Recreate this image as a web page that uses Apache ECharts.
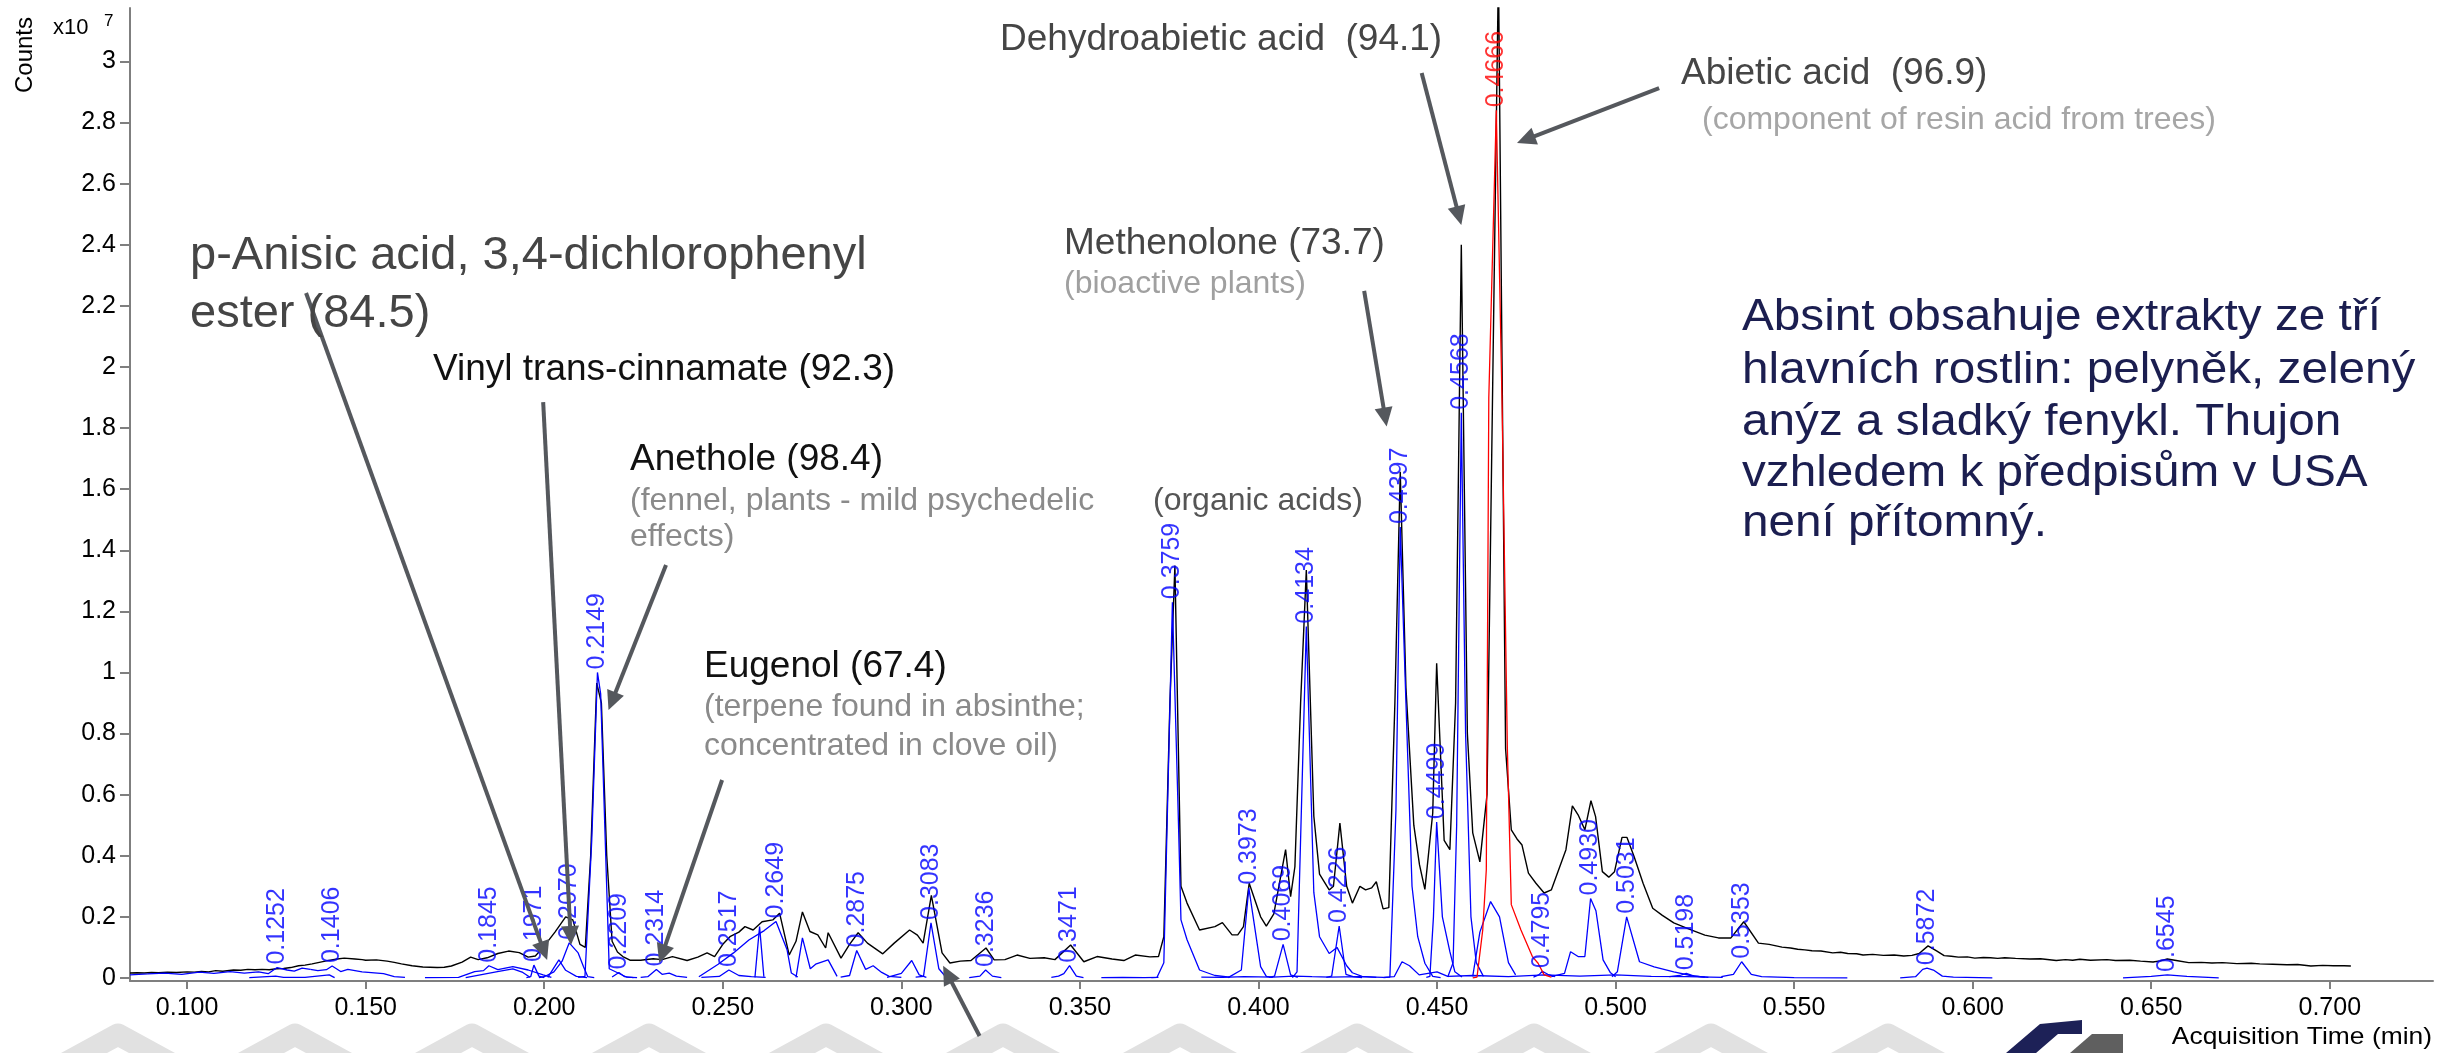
<!DOCTYPE html>
<html>
<head>
<meta charset="utf-8">
<title>Absint – chromatogram</title>
<script src="https://cdn.jsdelivr.net/npm/echarts@6/dist/echarts.min.js"></script>
<style>
  html, body { margin: 0; padding: 0; background: #ffffff; }
  #chart { width: 2447px; height: 1053px; }
</style>
</head>
<body>
<div id="chart"></div>
<script>
// Acquisition time in min, counts in units of 10^7.

const timeTicks  = [0.100, 0.150, 0.200, 0.250, 0.300, 0.350, 0.400, 0.450, 0.500, 0.550, 0.600, 0.650, 0.700];
const countTicks = [0, 0.2, 0.4, 0.6, 0.8, 1, 1.2, 1.4, 1.6, 1.8, 2, 2.2, 2.4, 2.6, 2.8, 3];

// Total ion chromatogram (black)
const ticTrace = [
  [0.0840,0.016],[0.0860,0.017],[0.0880,0.016],[0.0900,0.018],[0.0920,0.017],[0.0945,0.019],[0.0970,0.018],
  [0.1000,0.020],[0.1020,0.019],[0.1040,0.021],[0.1060,0.020],[0.1080,0.024],[0.1100,0.022],[0.1130,0.026],
  [0.1150,0.025],[0.1170,0.028],[0.1190,0.027],[0.1210,0.028],[0.1230,0.027],[0.1250,0.030],[0.1270,0.031],
  [0.1290,0.034],[0.1312,0.040],[0.1330,0.042],[0.1350,0.046],[0.1370,0.051],[0.1390,0.056],[0.1420,0.062],
  [0.1440,0.065],[0.1470,0.062],[0.1490,0.060],[0.1500,0.058],[0.1530,0.059],[0.1560,0.055],[0.1580,0.051],
  [0.1600,0.046],[0.1630,0.040],[0.1660,0.036],[0.1700,0.034],[0.1720,0.035],[0.1740,0.039],[0.1770,0.052],
  [0.1794,0.068],[0.1815,0.060],[0.1840,0.066],[0.1870,0.080],[0.1900,0.088],[0.1930,0.083],[0.1955,0.068],
  [0.1975,0.072],[0.1997,0.100],[0.2030,0.150],[0.2060,0.200],[0.2080,0.190],[0.2100,0.110],[0.2115,0.100],
  [0.2130,0.400],[0.2147,0.965],[0.2160,0.900],[0.2175,0.400],[0.2190,0.120],[0.2205,0.085],[0.2220,0.070],
  [0.2240,0.058],[0.2270,0.058],[0.2305,0.063],[0.2330,0.060],[0.2359,0.070],[0.2400,0.057],[0.2430,0.068],
  [0.2456,0.082],[0.2477,0.070],[0.2500,0.110],[0.2520,0.135],[0.2545,0.150],[0.2562,0.168],[0.2585,0.157],
  [0.2610,0.184],[0.2640,0.190],[0.2659,0.212],[0.2686,0.075],[0.2705,0.120],[0.2723,0.216],[0.2744,0.152],
  [0.2766,0.141],[0.2788,0.098],[0.2795,0.148],[0.2831,0.065],[0.2855,0.110],[0.2879,0.148],[0.2905,0.114],
  [0.2948,0.079],[0.2980,0.114],[0.3023,0.157],[0.3045,0.140],[0.3061,0.114],[0.3084,0.270],[0.3114,0.082],
  [0.3136,0.049],[0.3165,0.055],[0.3195,0.057],[0.3237,0.098],[0.3260,0.059],[0.3290,0.060],[0.3324,0.075],
  [0.3360,0.064],[0.3400,0.066],[0.3430,0.060],[0.3474,0.108],[0.3511,0.053],[0.3548,0.070],[0.3590,0.062],
  [0.3623,0.057],[0.3655,0.075],[0.3696,0.069],[0.3720,0.070],[0.3735,0.135],[0.3752,0.900],[0.3766,1.350],
  [0.3783,0.300],[0.3800,0.245],[0.3835,0.157],[0.3878,0.168],[0.3899,0.181],[0.3926,0.141],[0.3942,0.141],
  [0.3958,0.168],[0.3974,0.310],[0.4006,0.200],[0.4022,0.170],[0.4043,0.210],[0.4076,0.420],[0.4090,0.266],
  [0.4102,0.364],[0.4118,0.900],[0.4134,1.335],[0.4155,0.530],[0.4171,0.340],[0.4198,0.288],[0.4210,0.300],
  [0.4228,0.507],[0.4247,0.300],[0.4263,0.245],[0.4284,0.300],[0.4300,0.288],[0.4317,0.295],[0.4330,0.315],
  [0.4349,0.226],[0.4365,0.230],[0.4382,0.900],[0.4397,1.657],[0.4413,0.950],[0.4435,0.500],[0.4451,0.370],
  [0.4466,0.290],[0.4488,0.540],[0.4499,1.030],[0.4520,0.450],[0.4536,0.420],[0.4552,0.900],[0.4568,2.400],
  [0.4585,0.800],[0.4600,0.475],[0.4620,0.380],[0.4640,0.600],[0.4672,3.300],[0.4692,0.750],[0.4708,0.485],
  [0.4724,0.455],[0.4738,0.435],[0.4756,0.343],[0.4777,0.310],[0.4800,0.278],[0.4820,0.288],[0.4861,0.420],
  [0.4879,0.563],[0.4895,0.534],[0.4914,0.485],[0.4931,0.580],[0.4944,0.528],[0.4963,0.348],[0.4981,0.330],
  [0.4997,0.348],[0.5018,0.460],[0.5032,0.460],[0.5052,0.397],[0.5077,0.310],[0.5104,0.228],[0.5131,0.205],
  [0.5163,0.180],[0.5206,0.160],[0.5250,0.140],[0.5288,0.131],[0.5323,0.131],[0.5359,0.184],[0.5400,0.114],
  [0.5430,0.110],[0.5466,0.101],[0.5490,0.098],[0.5510,0.094],[0.5530,0.092],[0.5550,0.089],[0.5575,0.088],
  [0.5608,0.082],[0.5630,0.084],[0.5650,0.080],[0.5675,0.079],[0.5693,0.075],[0.5720,0.077],[0.5750,0.074],
  [0.5780,0.075],[0.5807,0.072],[0.5830,0.074],[0.5850,0.080],[0.5875,0.105],[0.5900,0.088],[0.5920,0.073],
  [0.5940,0.071],[0.5960,0.068],[0.5985,0.069],[0.6006,0.065],[0.6030,0.067],[0.6050,0.066],[0.6070,0.064],
  [0.6090,0.066],[0.6120,0.064],[0.6160,0.062],[0.6190,0.063],[0.6234,0.057],[0.6260,0.060],[0.6280,0.058],
  [0.6300,0.061],[0.6330,0.058],[0.6376,0.060],[0.6400,0.057],[0.6440,0.058],[0.6470,0.055],[0.6505,0.052],
  [0.6525,0.056],[0.6545,0.062],[0.6570,0.057],[0.6605,0.050],[0.6640,0.051],[0.6670,0.049],[0.6700,0.050],
  [0.6740,0.047],[0.6780,0.048],[0.6804,0.046],[0.6840,0.045],[0.6880,0.043],[0.6910,0.044],[0.6947,0.039],
  [0.6980,0.041],[0.7010,0.040],[0.7040,0.040],[0.7059,0.039]
];

// Extracted component peaks (blue): retention time, apex height, points before and after the apex
const peakRT  = [0.1252, 0.1406, 0.1845, 0.1971, 0.2070, 0.2149, 0.2209, 0.2314, 0.2517, 0.2649,
                 0.2875, 0.3083, 0.3236, 0.3471, 0.3759, 0.3973, 0.4069, 0.4134, 0.4226, 0.4397,
                 0.4499, 0.4568, 0.4795, 0.4930, 0.5031, 0.5198, 0.5353, 0.5872, 0.6545];
const peakTop = [0.034, 0.039, 0.040, 0.042, 0.115, 1.000, 0.018, 0.028, 0.026, 0.185,
                 0.090, 0.180, 0.026, 0.040, 1.230, 0.295, 0.110, 1.150, 0.170, 1.476,
                 0.510, 1.850, 0.022, 0.260, 0.200, 0.015, 0.053, 0.032, 0.010];
const peakLead = [
  [[0.0840,0.010],[0.0890,0.013],[0.0937,0.016],[0.0985,0.012],[0.1034,0.019],[0.1075,0.015],[0.1120,0.021],[0.1160,0.016],[0.1200,0.020],[0.1227,0.014]],
  [[0.1345,0.028],[0.1366,0.024],[0.1390,0.027]],
  [[0.1666,0.001],[0.1760,0.002],[0.1805,0.021],[0.1830,0.024]],
  [[0.1950,0.001],[0.1962,0.004]],
  [[0.1985,0.001],[0.2000,0.004],[0.2027,0.020],[0.2050,0.055]],
  [[0.2095,0.002],[0.2114,0.005],[0.2133,0.450]],
  [[0.2190,0.003]],
  [[0.2270,0.002],[0.2290,0.004]],
  [[0.2440,0.002],[0.2490,0.005]],
  [[0.2433,0.004],[0.2487,0.045],[0.2530,0.082],[0.2573,0.124],[0.2616,0.155]],
  [[0.2830,0.003],[0.2855,0.008]],
  [[0.3040,0.003],[0.3062,0.005]],
  [[0.3190,0.001],[0.3220,0.006]],
  [[0.3420,0.002],[0.3440,0.006],[0.3455,0.014]],
  [[0.3700,0.001],[0.3716,0.002],[0.3735,0.050]],
  [[0.3915,0.001],[0.3952,0.026]],
  [[0.4030,0.002],[0.4045,0.006]],
  [[0.4095,0.001],[0.4108,0.020]],
  [[0.4190,0.002],[0.4205,0.006]],
  [[0.4350,0.001],[0.4368,0.003],[0.4385,0.550]],
  [[0.4470,0.002],[0.4480,0.005],[0.4490,0.200]],
  [[0.4530,0.003],[0.4545,0.050],[0.4555,0.500]],
  [[0.4770,0.003],[0.4785,0.010]],
  [[0.4820,0.004],[0.4857,0.015],[0.4874,0.086],[0.4895,0.070],[0.4914,0.070]],
  [[0.4990,0.004],[0.5005,0.020]],
  [[0.5150,0.004],[0.5180,0.008]],
  [[0.5296,0.004],[0.5330,0.012]],
  [[0.5797,0.000],[0.5840,0.004],[0.5860,0.028]],
  [[0.6421,0.000],[0.6500,0.005]]
];
const peakTail = [
  [[0.1280,0.026],[0.1300,0.022],[0.1322,0.032],[0.1345,0.028]],
  [[0.1430,0.021],[0.1450,0.028],[0.1490,0.020],[0.1550,0.014],[0.1580,0.004],[0.1610,0.002]],
  [[0.1870,0.027],[0.1912,0.037],[0.1955,0.026],[0.1997,0.010],[0.2020,0.002]],
  [[0.1985,0.006],[0.2000,0.001]],
  [[0.2095,0.082],[0.2110,0.037],[0.2122,0.004],[0.2140,0.001]],
  [[0.2158,0.930],[0.2182,0.030],[0.2230,0.003],[0.2260,0.001]],
  [[0.2225,0.004],[0.2250,0.001]],
  [[0.2330,0.012],[0.2350,0.016],[0.2370,0.006],[0.2400,0.002]],
  [[0.2545,0.008],[0.2580,0.004],[0.2620,0.002]],
  [[0.2680,0.092],[0.2692,0.016],[0.2710,0.003]],
  [[0.2900,0.028],[0.2921,0.040],[0.2945,0.018],[0.2966,0.005],[0.3000,0.002]],
  [[0.3105,0.030],[0.3124,0.004],[0.3150,0.001]],
  [[0.3255,0.006],[0.3280,0.001]],
  [[0.3490,0.006],[0.3510,0.001]],
  [[0.3775,0.550],[0.3783,0.190],[0.3800,0.125],[0.3835,0.026],[0.3878,0.008],[0.3920,0.003]],
  [[0.4006,0.037],[0.4022,0.005],[0.4040,0.002]],
  [[0.4090,0.010],[0.4110,0.002]],
  [[0.4155,0.280],[0.4171,0.135],[0.4198,0.080],[0.4220,0.100],[0.4247,0.040],[0.4263,0.017],[0.4290,0.005],[0.4330,0.002]],
  [[0.4245,0.012],[0.4265,0.004],[0.4290,0.001]],
  [[0.4413,0.900],[0.4430,0.300],[0.4446,0.135],[0.4466,0.048],[0.4488,0.005],[0.4510,0.001]],
  [[0.4515,0.200],[0.4536,0.086],[0.4550,0.020],[0.4570,0.003]],
  [[0.4580,0.800],[0.4595,0.200],[0.4610,0.050],[0.4630,0.005]],
  [[0.4810,0.012],[0.4830,0.004]],
  [[0.4945,0.220],[0.4965,0.059],[0.4985,0.018],[0.5000,0.004]],
  [[0.5067,0.053],[0.5108,0.036],[0.5163,0.020],[0.5210,0.008],[0.5250,0.003]],
  [[0.5220,0.006],[0.5260,0.002]],
  [[0.5380,0.012],[0.5409,0.004],[0.5500,0.001],[0.5649,0.000]],
  [[0.5890,0.026],[0.5915,0.006],[0.5946,0.003],[0.6055,0.000]],
  [[0.6600,0.005],[0.6689,0.000]]
];

// Unlabelled component traces running along the baseline (blue)
const minorTraces = [
  [[0.1174,0.001],[0.1248,0.006],[0.1270,0.002],[0.1330,0.002],[0.1398,0.010],[0.1413,0.001]],
  [[0.1780,0.001],[0.1869,0.021],[0.1912,0.030],[0.1940,0.018],[0.1960,0.002]],
  [[0.2010,0.002],[0.2041,0.059],[0.2060,0.025],[0.2090,0.005],[0.2120,0.001]],
  [[0.2590,0.002],[0.2603,0.168],[0.2615,0.004]],
  [[0.2705,0.002],[0.2723,0.131],[0.2745,0.030],[0.2760,0.045],[0.2795,0.059],[0.2820,0.005]],
  [[0.2960,0.002],[0.3000,0.015],[0.3029,0.057],[0.3050,0.010],[0.3070,0.002]],
  [[0.3560,0.001],[0.3620,0.002],[0.3680,0.001],[0.3720,0.002]],
  [[0.3840,0.003],[0.3900,0.002],[0.3960,0.004],[0.4040,0.003],[0.4100,0.006],[0.4150,0.004],
   [0.4200,0.003],[0.4280,0.004],[0.4350,0.002],[0.4380,0.004],[0.4402,0.053],[0.4423,0.040],
   [0.4450,0.010],[0.4500,0.020],[0.4530,0.005],[0.4600,0.008],[0.4700,0.004],[0.4800,0.010],
   [0.4900,0.006],[0.5000,0.010],[0.5100,0.005],[0.5200,0.004],[0.5300,0.002]],
  [[0.4600,0.005],[0.4620,0.150],[0.4650,0.250],[0.4675,0.200],[0.4700,0.050],[0.4720,0.010]]
];

// Target compound (red)
const redRT   = 0.4666;
const redTop  = 2.84;
const redLead = [[0.4600,0.000],[0.4612,0.003],[0.4628,0.157],[0.4638,0.354],[0.4645,1.900]];
const redTail = [[0.4682,1.890],[0.4697,0.750],[0.4708,0.240],[0.4735,0.157],[0.4767,0.070],[0.4783,0.048],[0.4800,0.010],[0.4820,0.003]];

// Compound call-outs: arrow start and tip in (time, counts)
const arrowPaths = [
  [[0.1333, 2.242], [0.2008, 0.059]],
  [[0.1997, 1.885], [0.2075, 0.108]],
  [[0.2341, 1.352], [0.2180, 0.877]],
  [[0.2498, 0.648], [0.2322, 0.049]],
  [[0.3219, -0.190],[0.3117, 0.040]],
  [[0.4296, 2.249], [0.4359, 1.805]],
  [[0.4457, 2.962], [0.4568, 2.465]],
  [[0.5122, 2.913], [0.4724, 2.733]]
];

const FAMILY = "'Liberation Sans', Arial, Helvetica, sans-serif";

const chart = echarts.init(document.getElementById('chart'), null, { renderer: 'canvas' });

const series = [];
series.push({
  type: 'line', data: ticTrace, symbol: 'none', silent: true, z: 2,
  lineStyle: { color: '#000000', width: 1.4 }
});
minorTraces.forEach(tr => series.push({
  type: 'line', data: tr, symbol: 'none', silent: true, z: 3,
  lineStyle: { color: '#0000ff', width: 1.3 }
}));
peakRT.forEach((rt, i) => series.push({
  type: 'line', data: peakLead[i].concat([[rt, peakTop[i]]], peakTail[i]),
  symbol: 'none', silent: true, z: 3,
  lineStyle: { color: '#0000ff', width: 1.3 }
}));
series.push({
  type: 'line', data: redLead.concat([[redRT, redTop]], redTail),
  symbol: 'none', silent: true, z: 4,
  lineStyle: { color: '#ff0000', width: 1.3 }
});

const rtLabel = (color) => ({
  show: true, position: 'top', distance: 3, rotate: 90,
  align: 'left', verticalAlign: 'middle',
  color: color, fontSize: 25, fontFamily: FAMILY,
  formatter: p => p.value[0].toFixed(4)
});
series.push({
  type: 'scatter', symbolSize: 0, silent: true, z: 6,
  data: peakRT.map((rt, i) => [rt, peakTop[i]]),
  label: rtLabel('#0000ff')
});
series.push({
  type: 'scatter', symbolSize: 0, silent: true, z: 6,
  data: [[redRT, redTop]],
  label: rtLabel('#ff0000')
});

const axisGray = '#7f7f7f';
chart.setOption({
  animation: false,
  backgroundColor: '#ffffff',
  grid: { left: 130, right: 14, top: 8, bottom: 72, containLabel: false, outerBoundsMode: 'none' },
  xAxis: {
    type: 'value', min: 0.0840, max: 0.7289,
    axisLine: { onZero: false, lineStyle: { color: axisGray, width: 2 } },
    axisTick: { show: true, length: 8, lineStyle: { color: axisGray, width: 2 }, customValues: timeTicks },
    axisLabel: { color: '#000', fontSize: 25, fontFamily: FAMILY, margin: 15, customValues: timeTicks,
                 formatter: v => v.toFixed(3) },
    splitLine: { show: false }
  },
  yAxis: {
    type: 'value', min: -0.01, max: 3.175,
    axisLine: { show: true, onZero: false, lineStyle: { color: axisGray, width: 2 } },
    axisTick: { show: true, length: 10, lineStyle: { color: axisGray, width: 2 }, customValues: countTicks },
    axisLabel: { color: '#000', fontSize: 25, fontFamily: FAMILY, margin: 14, customValues: countTicks,
                 formatter: v => String(Math.round(v * 10) / 10) },
    splitLine: { show: false }
  },
  series: series
});

// ---- annotations ----
function text(str, x, baseline, size, color, scaleX, align) {
  return {
    type: 'text', x: x, y: baseline - 0.35 * size, scaleX: scaleX || 1, silent: true, z: 20,
    style: { text: str, fill: color, font: size + 'px ' + FAMILY,
             align: align || 'left', verticalAlign: 'middle' }
  };
}

const graphics = [];

// light chevrons along the bottom edge
const chevronX = [118, 295, 472, 649, 826, 1003, 1180, 1357, 1534, 1711, 1888];
chevronX.forEach(cx => graphics.push({
  type: 'polyline', silent: true, z: 0,
  shape: { points: [[cx - 90, 1083.5], [cx, 1034.5], [cx + 90, 1083.5]] },
  style: { stroke: '#e1e1e1', lineWidth: 22, fill: null, lineJoin: 'round' }
}));
// corner logo
graphics.push({
  type: 'polygon', silent: true, z: 0,
  shape: { points: [[2006, 1053], [2040, 1024], [2082, 1020], [2082, 1034], [2058, 1034], [2036, 1053]] },
  style: { fill: '#1d2157' }
});
graphics.push({
  type: 'polygon', silent: true, z: 0,
  shape: { points: [[2070, 1053], [2092, 1034], [2123, 1034], [2123, 1053]] },
  style: { fill: '#5f5f5f' }
});

// axis captions
graphics.push({
  type: 'text', x: 25, y: 55, rotation: Math.PI / 2, silent: true, z: 20,
  style: { text: 'Counts', fill: '#000', font: '24px ' + FAMILY, align: 'center', verticalAlign: 'middle' }
});
graphics.push(text('x10', 53, 36, 22, '#000'));
graphics.push(text('7', 104, 27, 17, '#000'));
graphics.push(text('Acquisition Time (min)', 2432, 1046, 24, '#000', 1.1, 'right'));

// compound names
graphics.push(text('p-Anisic acid, 3,4-dichlorophenyl', 190, 272, 47, '#454545'));
graphics.push(text('ester (84.5)', 190, 330, 47, '#454545'));
graphics.push(text('Vinyl trans-cinnamate (92.3)', 433, 383, 37, '#111111'));
graphics.push(text('Anethole (98.4)', 630, 473, 37, '#111111'));
graphics.push(text('(fennel, plants - mild psychedelic', 630, 512, 32, '#8a8a8a'));
graphics.push(text('effects)', 630, 548, 32, '#8a8a8a'));
graphics.push(text('Eugenol (67.4)', 704, 680, 37, '#111111'));
graphics.push(text('(terpene found in absinthe;', 704, 718, 32, '#8a8a8a'));
graphics.push(text('concentrated in clove oil)', 704, 757, 32, '#8a8a8a'));
graphics.push(text('(organic acids)', 1153, 512, 32, '#555555'));
graphics.push(text('Methenolone (73.7)', 1064, 257, 37, '#454545'));
graphics.push(text('(bioactive plants)', 1064, 295, 32, '#a0a0a0'));
graphics.push(text('Dehydroabietic acid  (94.1)', 1000, 53, 37, '#454545'));
graphics.push(text('Abietic acid  (96.9)', 1681, 87, 37, '#454545'));
graphics.push(text('(component of resin acid from trees)', 1702, 131, 32, '#a6a6a6'));

const noteLines = [
  'Absint obsahuje extrakty ze tří',
  'hlavních rostlin: pelyněk, zelený',
  'anýz a sladký fenykl. Thujon',
  'vzhledem k předpisům v USA',
  'není přítomný.'
];
const noteBase = [333, 386, 438, 489, 539];
noteLines.forEach((ln, i) => graphics.push(text(ln, 1742, noteBase[i], 45, '#1b1e50', 1.06)));

// arrows
const arrowColor = '#55585d';
arrowPaths.forEach(([a, b]) => {
  const p0 = chart.convertToPixel({ gridIndex: 0 }, a);
  const p1 = chart.convertToPixel({ gridIndex: 0 }, b);
  const dx = p1[0] - p0[0], dy = p1[1] - p0[1];
  const len = Math.sqrt(dx * dx + dy * dy);
  const ux = dx / len, uy = dy / len;
  const headL = 19, headW = 9;
  const bx = p1[0] - ux * headL, by = p1[1] - uy * headL;
  graphics.push({
    type: 'line', silent: true, z: 15,
    shape: { x1: p0[0], y1: p0[1], x2: bx + ux * 2, y2: by + uy * 2 },
    style: { stroke: arrowColor, lineWidth: 4 }
  });
  graphics.push({
    type: 'polygon', silent: true, z: 15,
    shape: { points: [[p1[0], p1[1]], [bx - uy * headW, by + ux * headW], [bx + uy * headW, by - ux * headW]] },
    style: { fill: arrowColor }
  });
});

chart.setOption({ graphic: graphics });
</script>
</body>
</html>
